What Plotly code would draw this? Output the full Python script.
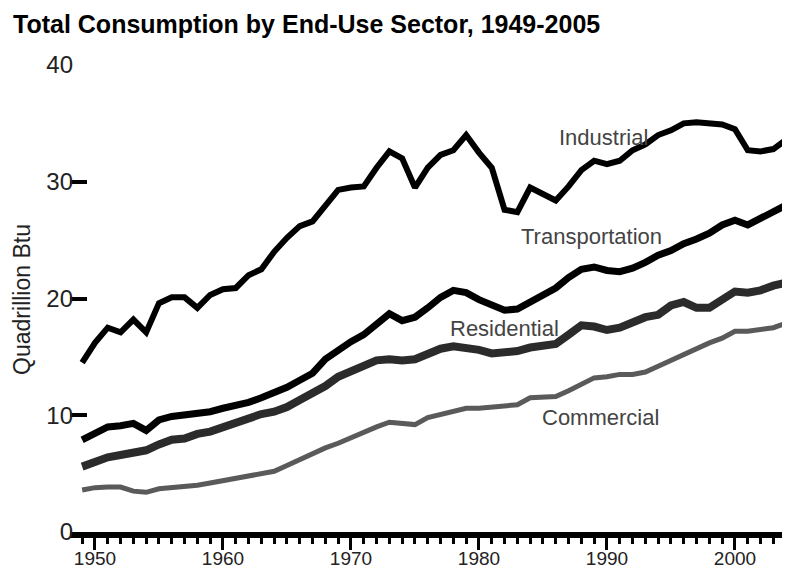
import plotly.graph_objects as go

years = list(range(1949, 2006))

industrial = [14.5, 16.2, 17.5, 17.1, 18.2, 17.1, 19.6, 20.1, 20.1, 19.2,
              20.3, 20.8, 20.9, 22.0, 22.5, 24.0, 25.2, 26.2, 26.6, 28.0,
              29.3, 29.5, 29.6, 31.2, 32.6, 32.0, 29.5, 31.2, 32.3, 32.7,
              34.0, 32.5, 31.2, 27.6, 27.4, 29.5, 28.9, 28.4, 29.6, 31.0,
              31.8, 31.5, 31.8, 32.7, 33.2, 34.0, 34.4, 35.0, 35.1, 35.0,
              34.9, 34.5, 32.7, 32.6, 32.8, 33.6, 32.9]

transportation = [7.9, 8.4, 9.0, 9.1, 9.3, 8.7, 9.6, 9.9, 10.0, 10.1,
                  10.3, 10.6, 10.8, 11.1, 11.5, 11.9, 12.4, 13.0, 13.6, 14.8,
                  15.6, 16.3, 16.9, 17.8, 18.7, 18.1, 18.4, 19.2, 20.1, 20.7,
                  20.5, 19.9, 19.4, 19.0, 19.1, 19.7, 20.2, 20.9, 21.8, 22.5,
                  22.7, 22.4, 22.3, 22.6, 23.1, 23.7, 24.1, 24.7, 25.1, 25.6,
                  26.3, 26.7, 26.3, 26.9, 27.5, 28.0, 28.2]

residential = [5.6, 6.0, 6.4, 6.6, 6.8, 7.0, 7.5, 7.9, 8.0, 8.4,
               8.6, 9.0, 9.4, 9.8, 10.1, 10.3, 10.7, 11.3, 11.9, 12.5,
               13.3, 13.8, 14.3, 14.7, 14.8, 14.7, 14.8, 15.2, 15.7, 15.9,
               15.8, 15.6, 15.3, 15.4, 15.5, 15.8, 15.9, 16.1, 16.9, 17.7,
               17.6, 17.3, 17.5, 17.9, 18.4, 18.6, 19.4, 19.7, 19.2, 19.2,
               19.9, 20.6, 20.5, 20.7, 21.1, 21.3, 21.6]

commercial = [3.6, 3.8, 3.85, 3.85, 3.5, 3.4, 3.7, 3.8, 3.85, 4.0,
              4.2, 4.4, 4.7, 4.9, 5.0, 5.2, 5.7, 6.2, 6.8, 7.2,
              7.6, 8.1, 8.5, 9.0, 9.4, 9.3, 9.2, 9.8, 10.1, 10.4,
              10.6, 10.6, 10.7, 10.8, 10.9, 11.5, 11.5, 11.6, 12.1, 12.6,
              13.2, 13.3, 13.5, 13.5, 13.7, 14.2, 14.7, 15.3, 15.8, 16.2,
              16.6, 17.2, 17.2, 17.4, 17.5, 17.9, 18.0]

x_tick_vals = [1950, 1960, 1970, 1980, 1990, 2000]
x_tick_text = ["1950", "1960", "1970", "1980", "1990", "2000"]
y_tick_vals = [0, 10, 20, 30, 40]

series_names = ["Industrial", "Transportation", "Residential", "Commercial"]
label_x = [1989.7, 1988.8, 1982.0, 1989.5]
label_y = [33.75, 25.35, 17.4, 9.8]

FONT = "Liberation Sans, Arial, sans-serif"

# The page body adds an 8px offset; the figure is sized to fill the rest of the window.
W, H = 782, 563

fig = go.Figure()
styles = [
    (industrial, "#000000", 6),
    (transportation, "#000000", 7),
    (residential, "#2b2b2b", 8),
    (commercial, "#5a5a5a", 5),
]
for (vals, col, w), name in zip(styles, series_names):
    fig.add_trace(go.Scatter(x=years, y=vals, mode="lines", name=name,
                             line=dict(color=col, width=w), showlegend=False))

for name, lx, ly in zip(series_names, label_x, label_y):
    fig.add_annotation(x=lx, y=ly, xref="x", yref="y", text=name, showarrow=False,
                       xanchor="center", yanchor="middle",
                       font=dict(family=FONT, size=22, color="#444444"))

fig.add_annotation(x=(14 - 62) / 720, y=0.497, xref="paper", yref="paper",
                   text="Quadrillion Btu", textangle=-90, showarrow=False,
                   xanchor="center", yanchor="middle",
                   font=dict(family=FONT, size=23, color="#222222"))

fig.update_layout(
    width=W, height=H,
    margin=dict(l=62, r=0, t=57, b=39, autoexpand=False),
    paper_bgcolor="white", plot_bgcolor="white",
    title=dict(text="<b>Total Consumption by End-Use Sector, 1949-2005</b>",
               x=5 / W, xanchor="left", xref="container",
               y=1 - 16 / H, yanchor="middle", yref="container",
               font=dict(family=FONT, size=25, color="#000000")),
    xaxis=dict(range=[1948.05, 2004.3], showgrid=False, zeroline=False, automargin=False,
               showline=True, linecolor="black", linewidth=6,
               ticks="outside", ticklen=12, tickwidth=3, tickcolor="black",
               tickvals=x_tick_vals, ticktext=x_tick_text,
               tickfont=dict(family=FONT, size=19, color="#222222"),
               minor=dict(dtick=1, ticks="outside", ticklen=6, tickwidth=3, tickcolor="black")),
    yaxis=dict(range=[0, 40], showgrid=False, zeroline=False, showline=False, automargin=False,
               ticks="inside", ticklen=17, tickwidth=4, tickcolor="black",
               tickvals=y_tick_vals,
               tickfont=dict(family=FONT, size=24, color="#222222")),
)

try:
    fig.update_layout(yaxis_ticklabelstandoff=-4, xaxis_ticklabelstandoff=-8)
except Exception:
    pass

fig.write_html("out.html")
